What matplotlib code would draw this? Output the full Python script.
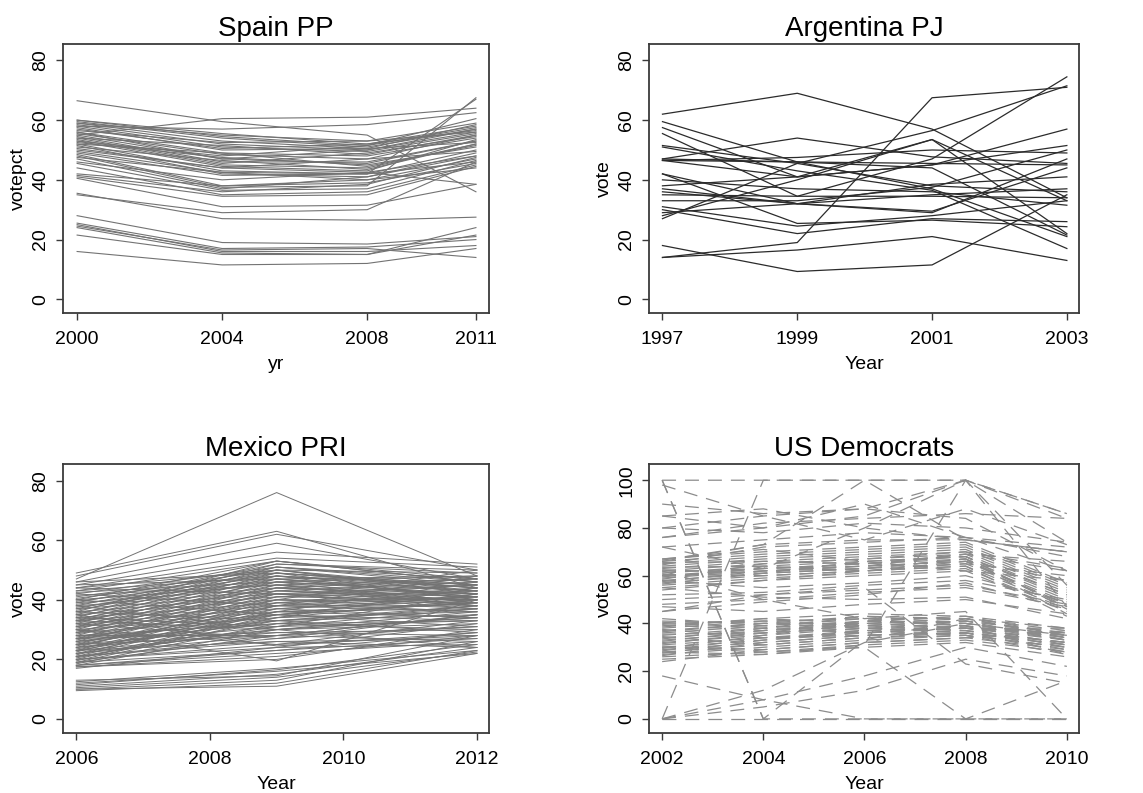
"""
Four panels of district-level vote shares over time (spaghetti plots),
one line per district, drawn in the style of R's matplot.
"""

import numpy as np
import matplotlib
matplotlib.use("Agg")
import matplotlib.pyplot as plt

plt.rcParams["font.family"] = ["Liberation Sans", "DejaVu Sans"]
plt.rcParams["lines.scale_dashes"] = False

# ---------------------------------------------------------------- data
spain_years = [2000, 2004, 2008, 2011]
spain_votes = [
    [66.5, 59.5, 55.0, 36.0], [55.0, 60.5, 61.0, 64.0], [58.0, 57.0, 58.5, 62.5],
    [60.0, 55.5, 52.0, 58.0], [59.5, 54.0, 51.0, 57.0], [59.0, 53.0, 50.5, 58.5],
    [58.5, 52.0, 50.0, 56.0], [58.0, 51.0, 49.5, 55.5], [57.0, 50.5, 52.0, 56.5],
    [56.0, 49.0, 48.0, 54.0], [55.5, 48.5, 47.0, 55.0], [55.0, 47.0, 50.0, 57.0],
    [54.5, 46.0, 46.0, 53.0], [54.0, 45.5, 49.0, 54.5], [53.5, 45.0, 44.0, 52.0],
    [53.0, 44.5, 43.0, 53.5], [52.5, 47.5, 45.0, 51.0], [52.0, 43.0, 42.0, 50.0],
    [51.5, 42.0, 41.0, 49.0], [51.0, 46.5, 43.5, 52.0], [50.0, 44.0, 42.5, 48.0],
    [49.5, 42.5, 40.0, 47.0], [49.0, 41.5, 42.0, 46.0], [48.5, 38.0, 39.0, 45.5],
    [48.0, 37.5, 38.0, 67.5], [47.0, 37.0, 41.0, 48.0], [45.5, 36.5, 37.0, 46.5],
    [44.0, 35.0, 36.0, 45.0], [42.0, 38.0, 40.0, 44.0], [41.0, 34.5, 35.0, 44.5],
    [40.5, 31.0, 31.5, 38.5], [35.5, 27.0, 26.5, 27.5], [35.0, 29.0, 30.0, 46.0],
    [56.5, 52.5, 53.0, 59.0], [57.5, 50.0, 50.5, 52.5], [53.0, 48.0, 51.5, 60.5],
    [50.5, 44.0, 47.0, 49.5], [46.0, 40.0, 42.5, 38.5], [59.0, 55.0, 53.0, 56.0],
    [54.0, 51.5, 48.5, 55.0], [52.0, 49.0, 44.5, 51.5], [47.5, 42.5, 42.0, 67.0],
    [41.5, 36.0, 38.5, 47.5], [60.0, 54.5, 51.5, 57.5], [56.0, 47.0, 45.5, 53.0],
    [28.0, 19.0, 18.5, 21.0], [25.5, 17.0, 17.5, 20.0], [25.0, 16.0, 16.0, 18.0],
    [24.0, 15.5, 15.0, 21.5], [21.5, 15.0, 15.0, 24.0], [16.0, 11.5, 12.0, 17.0],
    [24.5, 16.5, 17.0, 14.0],
]

argentina_years = [1997, 1999, 2001, 2003]
argentina_votes = [
    [62.0, 69.0, 57.0, 34.0], [14.0, 19.0, 67.5, 71.0], [14.0, 16.5, 21.0, 13.0],
    [18.0, 9.3, 11.5, 35.0], [59.5, 46.0, 44.0, 21.5], [57.5, 41.0, 53.5, 22.0],
    [55.5, 34.5, 47.0, 74.5], [47.0, 54.0, 47.7, 45.5], [51.5, 45.5, 38.0, 36.0],
    [46.5, 46.0, 45.5, 45.0], [46.5, 47.5, 50.0, 49.0], [46.5, 41.0, 45.0, 51.5],
    [42.0, 25.4, 26.5, 24.3], [40.0, 37.0, 36.0, 31.5], [38.0, 41.0, 45.0, 57.0],
    [37.0, 32.0, 35.0, 37.0], [35.0, 34.5, 34.5, 34.0], [33.0, 33.0, 37.5, 50.0],
    [31.0, 24.5, 28.0, 33.0], [30.0, 22.0, 27.0, 26.0], [28.0, 40.0, 53.5, 33.0],
    [27.0, 45.5, 56.5, 71.5], [29.0, 32.0, 29.5, 44.0], [51.0, 43.0, 36.5, 17.0],
    [36.0, 32.0, 38.5, 41.0], [47.0, 46.0, 37.0, 21.0], [42.0, 32.0, 29.0, 47.0],
]

mexico_years = [2006, 2009, 2012]
mexico_votes = [
    [47, 76, 48], [49, 63, 44], [48, 62, 50], [46, 59, 47], [45, 56, 52],
    [44, 54, 51], [43, 53, 46], [30, 19.5, 40], [12.5, 17, 23], [12, 16, 22],
    [11, 15, 24], [10.5, 14, 22.5], [10, 13, 26], [9.5, 12, 23], [10, 11, 22],
    [13, 14.5, 28], [11.5, 16.5, 25], [17.5, 20, 30], [18, 23, 27], [17, 24, 32],
    [18, 30, 36], [18.5, 32, 38], [19, 34, 40], [19.5, 35, 42], [20, 36, 39],
    [20.5, 33, 35], [21, 37, 41], [21.5, 38, 43], [22, 36, 37], [22.5, 39, 44],
    [23, 40, 40], [23.5, 35, 33], [24, 41, 45], [24.5, 38, 38], [25, 42, 42],
    [25.5, 37, 34], [26, 43, 46], [26.5, 40, 39], [27, 44, 41], [27.5, 39, 36],
    [28, 45, 47], [28.5, 41, 40], [29, 46, 43], [29.5, 42, 37], [30, 47, 48],
    [30.5, 43, 41], [31, 48, 44], [31.5, 44, 38], [32, 49, 45], [32.5, 45, 42],
    [33, 50, 49], [33.5, 46, 39], [34, 51, 46], [34.5, 47, 43], [35, 52, 50],
    [35.5, 48, 40], [36, 53, 47], [36.5, 49, 44], [37, 50, 42], [37.5, 46, 48],
    [38, 51, 45], [38.5, 47, 41], [39, 52, 49], [39.5, 48, 43], [40, 53, 46],
    [40.5, 49, 40], [41, 50, 44], [41.5, 45, 39], [42, 51, 47], [42.5, 46, 42],
    [43, 48, 45], [44, 50, 43], [45, 47, 41], [46, 49, 44], [20, 25, 33],
    [21, 27, 31], [22, 28, 35], [23, 29, 30], [24, 30, 34], [25, 31, 37],
    [26, 32, 33], [27, 33, 38], [28, 28, 31], [29, 34, 36], [30, 35, 39],
    [31, 36, 34], [32, 37, 40], [33, 38, 36], [34, 39, 41], [35, 40, 37],
    [36, 41, 43], [37, 42, 38], [38, 43, 40], [39, 44, 42], [40, 45, 38],
    [17.5, 21, 28], [18, 22, 26], [19, 23, 29], [20, 24, 25], [21, 26, 24],
    [22, 30, 32], [23, 26, 27], [24, 33, 29], [25, 28, 26], [26, 35, 31],
    [27, 29, 28], [28, 32, 30], [30, 25, 28], [32, 27, 35], [34, 31, 33],
    [36, 33, 37], [38, 30, 34], [40, 35, 39], [42, 38, 41], [44, 42, 40],
    [35, 24.5, 29], [33, 30, 24], [19, 28, 35], [21, 31, 42], [23, 34, 44],
    [25, 36, 46], [27, 38, 48], [29, 40, 50], [31, 42, 45], [33, 44, 47],
]

us_years = [2002, 2004, 2006, 2008, 2010]
us_votes = [
    [100, 100, 100, 100, 86], [0, 0, 0, 0, 0], [0, 100, 100, 100, 84],
    [100, 0, 0, 0, 0], [100, 0, 33, 42, 38], [30, 28, 30, 0, 16],
    [28, 27, 31, 100, 47], [66, 73, 100, 75, 70], [80, 85, 88, 100, 86],
    [76, 80, 85, 100, 74], [72, 63, 80, 100, 56], [18, 8, 0, 0, 0],
    [0, 5, 12, 25, 18], [0, 12, 32, 40, 35], [98, 85, 75, 88, 73],
    [85, 80, 90, 76, 62], [62, 50, 42, 45, 0], [45, 52, 55, 23, 15],
    [26, 28, 31, 33, 28], [27, 30, 33, 35, 30], [28, 31, 34, 36, 31],
    [29, 32, 35, 37, 32], [30, 33, 36, 38, 33], [31, 34, 37, 39, 34],
    [32, 35, 38, 40, 35], [33, 36, 39, 41, 36], [34, 37, 40, 42, 37],
    [35, 38, 41, 43, 38], [36, 39, 42, 42, 34], [37, 40, 43, 40, 33],
    [38, 41, 42, 39, 31], [39, 42, 40, 38, 30], [40, 41, 39, 37, 29],
    [41, 40, 38, 36, 28], [42, 39, 37, 35, 27], [25, 27, 30, 32, 26],
    [24, 29, 32, 34, 29], [27.5, 33, 37, 38, 35], [29.5, 35, 40, 41, 36],
    [31.5, 36, 41, 40, 34], [33.5, 38, 43, 42, 35], [35.5, 36, 38, 37, 32],
    [37.5, 34, 35, 36, 31], [39.5, 37, 41, 39, 33], [34.5, 31, 34, 35, 30],
    [30.5, 29, 32, 34, 37], [28.5, 34, 36, 38, 38], [36.5, 40, 40, 38, 36],
    [32.5, 37, 39, 41, 33], [38.5, 42, 44, 43, 35], [26.5, 32, 35, 36, 32],
    [40.5, 38, 36, 39, 27], [50, 52, 54, 56, 48], [48, 50, 53, 55, 47],
    [52, 53, 56, 58, 50], [45, 49, 52, 57, 46], [55, 51, 50, 51, 42],
    [58, 55, 57, 60, 49], [47, 45, 48, 50, 44], [55, 58, 60, 62, 45],
    [56, 59, 61, 63, 46], [57, 60, 62, 64, 47], [58, 61, 63, 65, 48],
    [59, 62, 64, 66, 49], [60, 63, 65, 67, 50], [61, 64, 66, 68, 51],
    [62, 65, 67, 69, 52], [63, 66, 68, 70, 53], [64, 67, 69, 71, 54],
    [65, 68, 70, 72, 55], [66, 69, 71, 73, 56], [67, 70, 72, 74, 57],
    [57.5, 62, 63, 67, 44], [59.5, 63, 65, 68, 46], [61.5, 63, 64, 66, 58],
    [63.5, 64, 62, 65, 60], [65.5, 66, 65, 69, 62], [62.5, 61, 63, 67, 47],
    [60.5, 60, 62, 64, 43], [58.5, 65, 67, 70, 63], [64.5, 72, 74, 76, 68],
    [66.5, 73, 75, 75, 70], [56.5, 61, 66, 68, 52], [54, 58, 62, 66, 48],
    [67, 71, 66, 62, 58], [60, 62, 64, 69, 66], [72, 75, 78, 76, 72],
    [80, 78, 82, 80, 74], [76, 82, 84, 86, 84], [85, 88, 80, 75, 70],
    [90, 86, 88, 84, 62], [0, 8, 18, 30, 22],
]

LINE_GREY = "#737373"
BOX = "#3a3a3a"


def draw_panel(ax, years, votes, title, xlabel, ylabel, xticks, yticks,
               xlim, ylim, color, lw, ls="-"):
    arr = np.array(votes, dtype=float).T
    ax.plot(years, arr, color=color, lw=lw, ls=ls)
    ax.set_xlim(*xlim)
    ax.set_ylim(*ylim)
    ax.set_xticks(xticks)
    ax.set_yticks(yticks)
    ax.set_yticklabels([str(v) for v in yticks], rotation=90, va="center")
    ax.tick_params(direction="out", length=5, width=1.0, color=BOX,
                   labelsize=14)
    ax.tick_params(axis="x", pad=8)
    ax.tick_params(axis="y", pad=5)
    ax.set_title(title, fontsize=20, pad=6)
    ax.set_xlabel(xlabel, fontsize=14, labelpad=6)
    ax.set_ylabel(ylabel, fontsize=14, labelpad=4)
    for sp in ax.spines.values():
        sp.set_color(BOX)
        sp.set_linewidth(1.3)


fig = plt.figure(figsize=(11.43, 7.93), dpi=100)
ax1 = fig.add_axes([0.0551, 0.6053, 0.3727, 0.3392])
ax2 = fig.add_axes([0.5678, 0.6053, 0.3762, 0.3392])
ax3 = fig.add_axes([0.0551, 0.0757, 0.3727, 0.3392])
ax4 = fig.add_axes([0.5678, 0.0757, 0.3762, 0.3392])

draw_panel(ax1, spain_years, spain_votes, "Spain PP", "yr", "votepct",
           spain_years, [0, 20, 40, 60, 80], (1999.61, 2011.36), (-4.6, 85.5),
           LINE_GREY, 0.8)
draw_panel(ax2, argentina_years, argentina_votes, "Argentina PJ", "Year", "vote",
           argentina_years, [0, 20, 40, 60, 80], (1996.8, 2003.18), (-4.6, 85.5),
           "#2b2b2b", 0.9)
draw_panel(ax3, mexico_years, mexico_votes, "Mexico PRI", "Year", "vote",
           [2006, 2008, 2010, 2012], [0, 20, 40, 60, 80], (2005.8, 2012.18),
           (-4.7, 85.6), LINE_GREY, 0.7)
draw_panel(ax4, us_years, us_votes, "US Democrats", "Year", "vote",
           us_years, [0, 20, 40, 60, 80, 100], (2001.74, 2010.24), (-5.9, 106.8),
           "#8c8c8c", 0.9, ls=(0, (10, 6.5)))

fig.savefig("out.png", dpi=100)
